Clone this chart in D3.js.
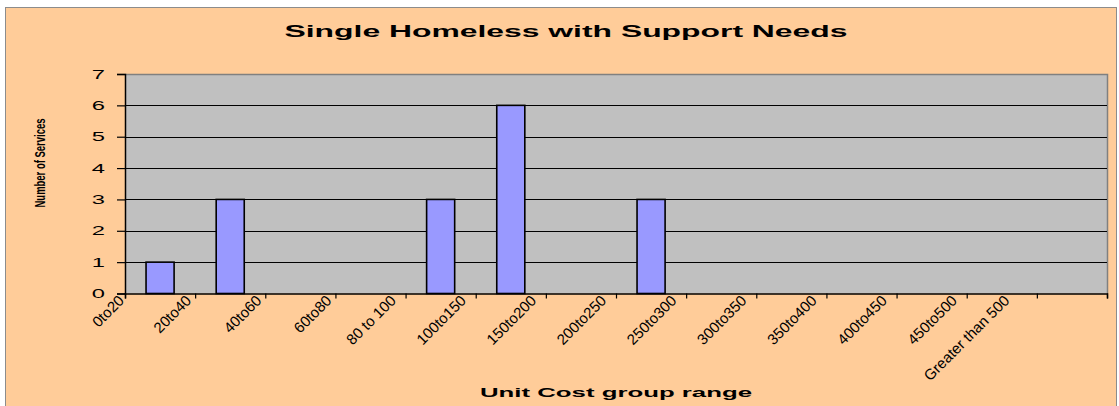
<!DOCTYPE html>
<html>
<head>
<meta charset="utf-8">
<script src="https://cdn.jsdelivr.net/npm/d3@7"></script>
<style>
  html, body { margin: 0; padding: 0; background: #ffffff; }
  svg { display: block; font-family: "Liberation Sans", Arial, sans-serif; }
</style>
</head>
<body>
<svg id="chart" width="1119" height="406"></svg>
<script>
// Unit cost bands and how many services fall into each
const categories = ["0to20", "20to40", "40to60", "60to80", "80 to 100", "100to150", "150to200",
  "200to250", "250to300", "300to350", "350to400", "400to450", "450to500", "Greater than 500"];
const services = [1, 3, 0, 0, 3, 6, 0, 3, 0, 0, 0, 0, 0, 0];
const yTicks = [0, 1, 2, 3, 4, 5, 6, 7];

const chartTitle = "Single Homeless with Support Needs";
const xTitle = "Unit Cost group range";
const yTitle = "Number of Services";

const svg = d3.select("#chart");
const W = 1119, H = 406;
const plot = { left: 125, right: 1107, top: 74, bottom: 293.5 };
const stretch = 1.9;

// chart area
svg.append("rect")
  .attr("x", 5.5).attr("y", 7.5)
  .attr("width", W - 8).attr("height", H + 10)
  .attr("fill", "#FFCC99")
  .attr("stroke", "#8c8c8c").attr("stroke-width", 1);

const x = d3.scaleBand()
  .domain(categories)
  .range([plot.left, plot.right])
  .paddingInner(0.6)
  .paddingOuter(0.3);

const slot = d3.scaleLinear()
  .domain([0, categories.length])
  .range([plot.left, plot.right]);

const y = d3.scaleLinear()
  .domain([0, 7])
  .range([plot.bottom, plot.top]);

// plot area
svg.append("rect")
  .attr("x", plot.left).attr("y", plot.top)
  .attr("width", plot.right - plot.left)
  .attr("height", plot.bottom - plot.top)
  .attr("fill", "#C0C0C0");

// outline on top and right of the plot area
svg.append("path")
  .attr("d", `M${plot.left},${plot.top + 0.5}H${plot.right + 0.5}V${plot.bottom}`)
  .attr("fill", "none")
  .attr("stroke", "#808080")
  .attr("stroke-width", 1.5);

// horizontal gridlines
svg.append("g")
  .selectAll("line")
  .data(yTicks.filter(d => d > 0 && d < 7))
  .join("line")
  .attr("x1", plot.left).attr("x2", plot.right)
  .attr("y1", d => Math.round(y(d)) + 0.5)
  .attr("y2", d => Math.round(y(d)) + 0.5)
  .attr("stroke", "#000")
  .attr("stroke-width", 1.2);

// bars
svg.append("g")
  .selectAll("rect")
  .data(categories.map((c, i) => ({ c, v: services[i] })).filter(d => d.v > 0))
  .join("rect")
  .attr("x", d => x(d.c))
  .attr("y", d => y(d.v))
  .attr("width", x.bandwidth())
  .attr("height", d => y(0) - y(d.v))
  .attr("fill", "#9999FF")
  .attr("stroke", "#000")
  .attr("stroke-width", 1.6);

// y axis
const yAxis = svg.append("g")
  .attr("transform", `translate(${plot.left},0)`)
  .call(d3.axisLeft(y).tickValues(yTicks).tickSize(8).tickFormat(d3.format("d")));
yAxis.select(".domain").attr("stroke", "#000").attr("stroke-width", 1.5);
yAxis.selectAll(".tick line").attr("stroke", "#000").attr("stroke-width", 1.2);
yAxis.selectAll(".tick text")
  .attr("x", 0)
  .attr("transform", `translate(-20,0) scale(${stretch},1)`)
  .attr("font-size", 12.5)
  .attr("font-family", "Liberation Sans, Arial, sans-serif")
  .attr("fill", "#000");

// x axis: ticks between categories
const xAxis = svg.append("g")
  .attr("transform", `translate(0,${plot.bottom})`)
  .call(d3.axisBottom(slot).tickValues(d3.range(categories.length + 1)).tickSize(5).tickFormat(""));
xAxis.select(".domain").attr("stroke", "#000").attr("stroke-width", 1.5);
xAxis.selectAll(".tick line").attr("stroke", "#000").attr("stroke-width", 1.2);

// diagonal category labels: each one ends just below its left tick,
// longer labels drawn back a little further
const labels = svg.append("g").selectAll("text")
  .data(categories)
  .join("text")
  .attr("font-size", 15)
  .attr("fill", "#000")
  .text(d => d);
const lens = labels.nodes().map(n => n.getComputedTextLength());
const c45 = Math.SQRT1_2;
const endY = plot.bottom + 8;
const endX = i => slot(i) - 0.35 * (lens[i] - lens[0]);
const startX = i => endX(i) - lens[i] * c45;
const startY = i => endY + lens[i] * c45;
labels
  .attr("x", (d, i) => startX(i))
  .attr("y", (d, i) => startY(i))
  .style("transform-origin", (d, i) => `${startX(i)}px ${startY(i)}px`)
  .style("transform", "rotate(-45deg)");

// chart title
svg.append("text")
  .attr("x", 566).attr("y", 37)
  .attr("text-anchor", "middle")
  .attr("font-size", 17)
  .attr("font-weight", "bold")
  .attr("textLength", 563)
  .attr("lengthAdjust", "spacingAndGlyphs")
  .text(chartTitle);

// x axis title
svg.append("text")
  .attr("x", (plot.left + plot.right) / 2).attr("y", 397)
  .attr("text-anchor", "middle")
  .attr("font-size", 13.5)
  .attr("font-weight", "bold")
  .attr("textLength", 272)
  .attr("lengthAdjust", "spacingAndGlyphs")
  .text(xTitle);

// y axis title
svg.append("text")
  .attr("transform", "translate(45,163) rotate(-90)")
  .attr("text-anchor", "middle")
  .attr("font-size", 15)
  .attr("font-weight", "bold")
  .attr("textLength", 89)
  .attr("lengthAdjust", "spacingAndGlyphs")
  .text(yTitle);
</script>
</body>
</html>
